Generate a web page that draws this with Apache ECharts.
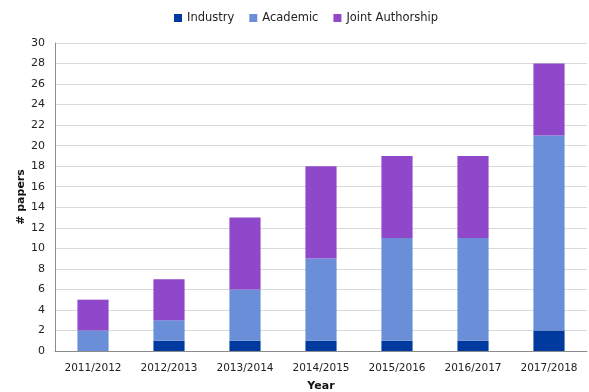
<!DOCTYPE html>
<html>
<head>
<meta charset="utf-8">
<script src="https://cdn.jsdelivr.net/npm/echarts@6/dist/echarts.min.js"></script>
<style>
  html, body { margin: 0; padding: 0; background: #fff; }
  #chart { width: 589px; height: 392px; }
</style>
</head>
<body>
<div id="chart"></div>
<script>
// Papers per academic year, split by authorship type
const years = ['2011/2012', '2012/2013', '2013/2014', '2014/2015', '2015/2016', '2016/2017', '2017/2018'];
const industry = [0, 1, 1, 1, 1, 1, 2];
const academic = [2, 2, 5, 8, 10, 10, 19];
const joint = [3, 4, 7, 9, 8, 8, 7];
const yTicks = { min: 0, max: 30, interval: 2 };

const font = 'DejaVu Sans, Verdana, sans-serif';
const chart = echarts.init(document.getElementById('chart'));

function barSeries(name, data, color) {
  return {
    name: name,
    type: 'bar',
    stack: 'papers',
    data: data,
    barWidth: '41%',
    itemStyle: { color: color },
    emphasis: { disabled: true }
  };
}

chart.setOption({
  animation: false,
  legend: {
    top: 7,
    left: 169,
    itemWidth: 8,
    itemHeight: 8,
    itemGap: 15,
    icon: 'rect',
    textStyle: { fontFamily: font, fontSize: 11.5, color: '#222' },
    data: ['Industry', 'Academic', 'Joint Authorship']
  },
  grid: { left: 55, right: 2, top: 43, bottom: 41, outerBoundsMode: 'none', containLabel: false },
  xAxis: {
    type: 'category',
    data: years,
    name: 'Year',
    nameLocation: 'middle',
    nameGap: 30,
    nameMoveOverlap: false,
    nameTextStyle: { fontFamily: font, fontSize: 11, fontWeight: 'bold', color: '#111' },
    axisLine: { lineStyle: { color: '#8c8c8c' } },
    axisTick: { show: false },
    axisLabel: { fontFamily: font, fontSize: 10.5, color: '#222', margin: 12 }
  },
  yAxis: {
    type: 'value',
    min: yTicks.min,
    max: yTicks.max,
    interval: yTicks.interval,
    name: '# papers',
    nameLocation: 'middle',
    nameGap: 28,
    nameMoveOverlap: false,
    nameTextStyle: { fontFamily: font, fontSize: 11, fontWeight: 'bold', color: '#111' },
    axisLine: { show: true, lineStyle: { color: '#8c8c8c' } },
    axisTick: { show: false },
    axisLabel: { fontFamily: font, fontSize: 11, color: '#222', margin: 10 },
    splitLine: { lineStyle: { color: '#d9d9d9' } }
  },
  series: [
    barSeries('Industry', industry, '#003a9e'),
    barSeries('Academic', academic, '#6a8fd8'),
    barSeries('Joint Authorship', joint, '#8e48c9')
  ]
});
</script>
</body>
</html>
